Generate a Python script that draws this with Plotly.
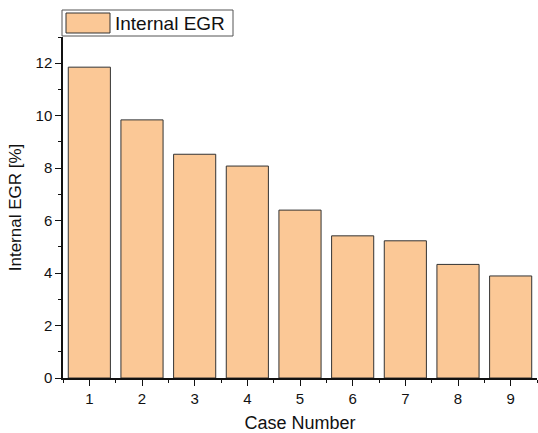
import plotly.graph_objects as go

cases = [1, 2, 3, 4, 5, 6, 7, 8, 9]
egr = [11.85, 9.84, 8.53, 8.08, 6.4, 5.42, 5.23, 4.33, 3.89]
y_ticks = [0, 2, 4, 6, 8, 10, 12]
series_name = "Internal EGR"

W, H = 538, 433
L, R, T, B = 63, 1, 37, 55
pw, ph = W - L - R, H - T - B


def px(x):
    return (x - L) / pw


def py(y):
    return (H - B - y) / ph


fill = "#FBC896"
edge = "#333333"

fig = go.Figure()
fig.add_trace(go.Bar(
    x=cases, y=egr, name=series_name, width=0.8, showlegend=False,
    marker=dict(color=fill, line=dict(color=edge, width=1)),
))

# Legend drawn manually (wide swatch like the original)
fig.add_shape(type="rect", xref="paper", yref="paper",
              x0=px(62), x1=px(233), y0=py(36), y1=py(10),
              line=dict(color="#555555", width=1), fillcolor="white")
fig.add_shape(type="rect", xref="paper", yref="paper",
              x0=px(66), x1=px(110), y0=py(33), y1=py(13),
              line=dict(color=edge, width=1), fillcolor=fill)
fig.add_annotation(text=series_name, xref="paper", yref="paper",
                   x=px(113), y=py(23), xanchor="left", yanchor="middle",
                   showarrow=False, font=dict(size=19, color="#111111"))

fig.update_layout(
    width=W, height=H,
    margin=dict(l=L, r=R, t=T, b=B),
    paper_bgcolor="white", plot_bgcolor="white",
    font=dict(family="Liberation Sans, Arial, sans-serif", color="#111111", size=15),
    showlegend=False,
)
fig.update_xaxes(
    range=[0.5, 9.5], tickmode="array", tickvals=cases, ticktext=[str(c) for c in cases],
    showline=True, linecolor="#111111", linewidth=1.5, ticks="outside", ticklen=6,
    tickcolor="#111111", showgrid=False, zeroline=False,
    minor=dict(ticks="outside", tickvals=[c + 0.5 for c in [0] + cases], ticklen=3, tickcolor="#111111"),
    title=dict(text="Case Number", font=dict(size=18), standoff=13),
)
fig.update_yaxes(
    range=[0, 13], tickmode="array", tickvals=y_ticks, ticktext=[str(v) for v in y_ticks],
    showline=True, linecolor="#111111", linewidth=1.5, ticks="outside", ticklen=6,
    tickcolor="#111111", showgrid=False, zeroline=False,
    minor=dict(ticks="outside", tickvals=[1, 3, 5, 7, 9, 11, 13], ticklen=3, tickcolor="#111111"),
    title=dict(text="Internal EGR [%]", font=dict(size=17), standoff=10),
)

fig.write_html("out.html")
